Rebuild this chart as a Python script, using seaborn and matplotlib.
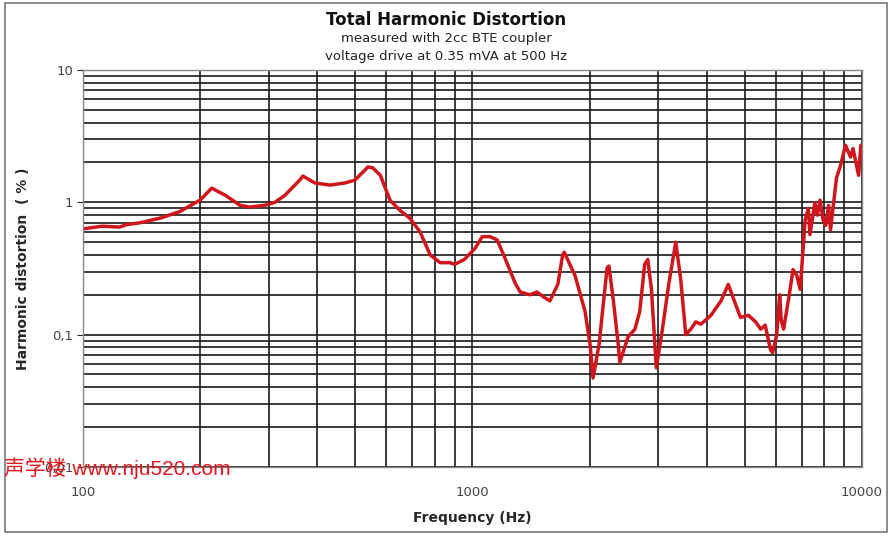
import seaborn as sns
import matplotlib.pyplot as plt
import matplotlib.ticker as mticker
from matplotlib.patches import Rectangle
import pandas as pd

# data
freq = [100, 112, 124, 130, 140, 158, 177, 200, 214, 232, 253, 268, 293, 311, 330, 360, 367,
        394, 431, 470, 499, 539, 555, 580, 614, 651, 690, 733, 779, 826, 875, 900, 953,
        1016, 1059, 1110, 1157, 1211, 1287, 1326, 1404, 1463, 1534, 1580, 1656, 1704, 1720,
        1833, 1945, 2004, 2039, 2113, 2216, 2240, 2300, 2367, 2390, 2507, 2612, 2688, 2767,
        2818, 2880, 2964, 3073, 3190, 3325, 3425, 3528, 3635, 3745, 3858, 4094, 4345, 4535,
        4734, 4875, 5109, 5330, 5495, 5640, 5822, 5896, 6040, 6146, 6200, 6290, 6505, 6650,
        6800, 6938, 7147, 7282, 7350, 7567, 7680, 7802, 7940, 8070, 8208, 8300, 8600, 8807,
        9070, 9341, 9480, 9800, 9930]
thd = [0.63, 0.66, 0.65, 0.68, 0.70, 0.76, 0.85, 1.04, 1.28, 1.13, 0.95, 0.92, 0.95, 1.0, 1.13,
       1.47, 1.58, 1.40, 1.35, 1.40, 1.47, 1.85, 1.82, 1.60, 1.04, 0.87, 0.76, 0.60, 0.40,
       0.35, 0.35, 0.34, 0.37, 0.45, 0.55, 0.55, 0.52, 0.38, 0.245, 0.21, 0.20, 0.21, 0.19,
       0.18, 0.24, 0.40, 0.42, 0.28, 0.15, 0.084, 0.047, 0.084, 0.32, 0.33, 0.18, 0.084,
       0.062, 0.096, 0.11, 0.15, 0.34, 0.37, 0.22, 0.056, 0.11, 0.24, 0.50, 0.26, 0.10,
       0.11, 0.125, 0.12, 0.14, 0.18, 0.24, 0.17, 0.135, 0.14, 0.125, 0.11, 0.118, 0.077,
       0.073, 0.10, 0.20, 0.13, 0.11, 0.20, 0.31, 0.28, 0.22, 0.74, 0.90, 0.57, 0.99, 0.80,
       1.04, 0.74, 0.67, 0.95, 0.62, 1.53, 1.90, 2.7, 2.2, 2.55, 1.6, 2.7]

y_ticks = [0.01, 0.1, 1, 10]
y_labels = ['0,01', '0,1', '1', '10']
x_ticks = [100, 1000, 10000]
x_labels = ['100', '1000', '10000']

df = pd.DataFrame({'f': freq, 'thd': thd})

sns.set_style('white')
plt.rcParams['font.family'] = ['DejaVu Sans']

fig = plt.figure(figsize=(8.92, 5.38), dpi=100)
ax = fig.add_axes([0.093, 0.132, 0.8734, 0.7379])

sns.lineplot(data=df, x='f', y='thd', ax=ax, color='#d0161c', linewidth=2.5, estimator=None)

ax.set_xscale('log')
ax.set_yscale('log')
ax.set_xlim(100, 10000)
ax.set_ylim(0.01, 10)

ax.set_xticks(x_ticks)
ax.set_xticklabels(x_labels)
ax.set_yticks(y_ticks)
ax.set_yticklabels(y_labels)
ax.xaxis.set_minor_locator(mticker.LogLocator(base=10, subs=range(2, 10)))
ax.yaxis.set_minor_locator(mticker.LogLocator(base=10, subs=range(2, 10)))
ax.xaxis.set_minor_formatter(mticker.NullFormatter())
ax.yaxis.set_minor_formatter(mticker.NullFormatter())

ax.grid(True, which='both', color='#1a1a1a', linewidth=1.2)
ax.set_axisbelow(True)
ax.tick_params(axis='x', which='both', length=0, pad=14, labelsize=9.5, labelcolor='#444444')
ax.tick_params(axis='y', which='major', length=4, pad=3, labelsize=9.5, labelcolor='#444444', left=True)
ax.tick_params(axis='y', which='minor', length=0)
for s in ax.spines.values():
    s.set_color('#888888')
    s.set_linewidth(1.0)

ax.set_xlabel('Frequency (Hz)', fontsize=10, fontweight='bold', labelpad=8)
ax.set_ylabel('Harmonic distortion  ( % )', fontsize=10, fontweight='bold', labelpad=10)

fig.text(0.5, 0.963, 'Total Harmonic Distortion', ha='center', va='center',
         fontsize=12, fontweight='bold', color='#111111')
fig.text(0.5, 0.929, 'measured with 2cc BTE coupler', ha='center', va='center',
         fontsize=9.5, color='#222222')
fig.text(0.5, 0.895, 'voltage drive at 0.35 mVA at 500 Hz', ha='center', va='center',
         fontsize=9.5, color='#222222')

# outer frame of the picture
fig.patches.append(Rectangle((5 / 892, 6 / 538), 882 / 892, 529 / 538, transform=fig.transFigure,
                             fill=False, edgecolor='#777777', linewidth=1.2))

# watermark
fig.text(0.004, 0.130, '声学楼 www.nju520.com', ha='left', va='center', fontsize=15,
         color='#e8141e', family=['Liberation Sans', 'Noto Sans CJK SC'])

fig.savefig('out.png', dpi=100)
